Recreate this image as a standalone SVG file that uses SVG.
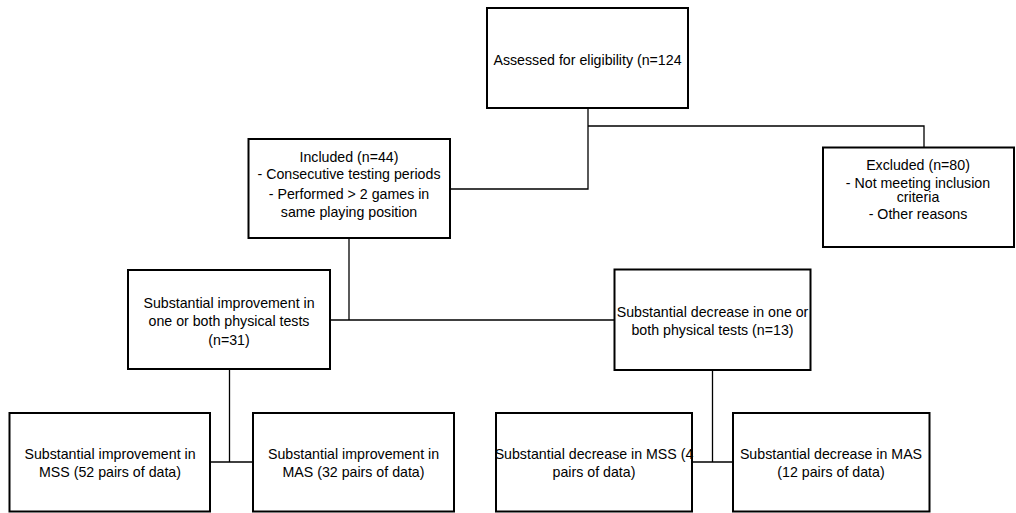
<svg xmlns="http://www.w3.org/2000/svg" width="1016" height="513" viewBox="0 0 1016 513">
<style>
.box{fill:#fff;stroke:#000;stroke-width:2}
.ln{fill:none;stroke:#000;stroke-width:1.3}
text{font-family:"Liberation Sans",Arial,sans-serif;font-size:14.2px;fill:#000;text-anchor:middle}
</style>
<rect width="1016" height="513" fill="#fff"/>
<g id="connectors">
<path class="ln" d="M588,108 V189 H450"/>
<path class="ln" d="M588,126 H924 V148"/>
<path class="ln" d="M349,238 V320"/>
<path class="ln" d="M330,320 H614"/>
<path class="ln" d="M229.5,369 V462 M210,462 H253"/>
<path class="ln" d="M712.5,370 V462 M692,462 H733"/>
</g>
<g id="assessed">
<rect class="box" x="487" y="8" width="201" height="100"/>
<text x="587.5" y="65">Assessed for eligibility (n=124</text>
</g>
<g id="included">
<rect class="box" x="248.5" y="139" width="201.5" height="99"/>
<text x="349" y="161.5">Included (n=44)</text>
<text x="349" y="178.5">- Consecutive testing periods</text>
<text x="349" y="199">- Performed &gt; 2 games in</text>
<text x="349" y="216.5">same playing position</text>
</g>
<g id="excluded">
<rect class="box" x="823" y="147.5" width="191" height="99.5"/>
<text x="918" y="170">Excluded (n=80)</text>
<text x="918" y="188">- Not meeting inclusion</text>
<text x="918" y="202">criteria</text>
<text x="918" y="219">- Other reasons</text>
</g>
<g id="improvement">
<rect class="box" x="128" y="270" width="202" height="99"/>
<text x="229" y="308">Substantial improvement in</text>
<text x="229" y="326">one or both physical tests</text>
<text x="229" y="345">(n=31)</text>
</g>
<g id="decrease">
<rect class="box" x="614.5" y="269.5" width="196" height="100.5"/>
<text x="712.5" y="316.5">Substantial decrease in one or</text>
<text x="712.5" y="335">both physical tests (n=13)</text>
</g>
<g id="imp-mss">
<rect class="box" x="9.5" y="413" width="200.5" height="98.5"/>
<text x="110" y="459">Substantial improvement in</text>
<text x="110" y="477">MSS (52 pairs of data)</text>
</g>
<g id="imp-mas">
<rect class="box" x="253" y="413" width="201" height="98.5"/>
<text x="353.5" y="459">Substantial improvement in</text>
<text x="353.5" y="477">MAS (32 pairs of data)</text>
</g>
<g id="dec-mss">
<rect class="box" x="496" y="413" width="196" height="98.5"/>
<text x="594" y="459">Substantial decrease in MSS (4</text>
<text x="594" y="477">pairs of data)</text>
</g>
<g id="dec-mas">
<rect class="box" x="733" y="413" width="196.5" height="98.5"/>
<text x="831" y="459">Substantial decrease in MAS</text>
<text x="831" y="477">(12 pairs of data)</text>
</g>
</svg>
